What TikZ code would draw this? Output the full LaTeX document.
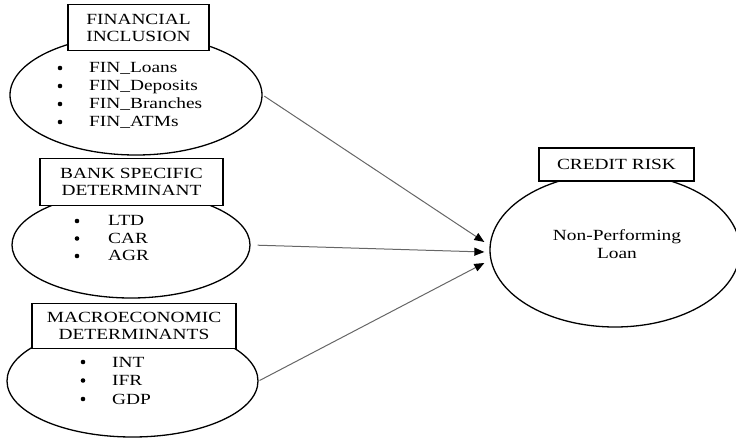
\documentclass[tikz,border=0pt]{standalone}
\usepackage{fontspec}
\setmainfont{Liberation Serif}[FakeStretch=1.25]
\usepackage{tikz}
\usetikzlibrary{arrows.meta, shapes.geometric, positioning}
\tikzset{>={Triangle[length=10pt,width=8pt,color=black]}}
\tikzset{
  oval/.style={draw, ellipse, line width=1.3pt, inner sep=0pt},
  headbox/.style={draw, rectangle, fill=white, line width=1.3pt, align=center, inner sep=0pt, font=\fontsize{15.5}{17}\selectfont},
  item/.style={anchor=base west, inner sep=0pt, font=\fontsize{15.5}{17}\selectfont},
  link/.style={->, draw=black!60, line width=1pt}
}

\begin{document}
\begin{tikzpicture}[x=1pt, y=-1pt]
        \useasboundingbox (0,0) rectangle (736,438);

        \node [oval, minimum width=252pt, minimum height=120pt] (fin) at (136,95) {};
        \node [oval, minimum width=238pt, minimum height=106pt] (bank) at (131,245) {};
        \node [oval, minimum width=251pt, minimum height=112pt] (macro) at (132.5,381) {};
        \node [oval, minimum width=250pt, minimum height=154pt] (npl) at (615,250) {};

        \node [headbox, minimum width=141pt, minimum height=46pt] (finhead) at (138.5,27.5) {FINANCIAL\\INCLUSION};
        \node [headbox, minimum width=183pt, minimum height=47pt] (bankhead) at (131.5,182) {BANK SPECIFIC\\DETERMINANT};
        \node [headbox, minimum width=204pt, minimum height=45pt] (macrohead) at (134,326) {MACROECONOMIC\\DETERMINANTS};
        \node [headbox, minimum width=155pt, minimum height=33pt] (riskhead) at (616.5,164.5) {CREDIT RISK};

        \node [item] (finloans) at (89,73) {FIN\_Loans};
        \node [item] (findep) at (89,91) {FIN\_Deposits};
        \node [item] (finbr) at (89,109) {FIN\_Branches};
        \node [item] (finatm) at (89,127) {FIN\_ATMs};

        \node [item] (ltd) at (108,226) {LTD};
        \node [item] (car) at (108,243.5) {CAR};
        \node [item] (agr) at (108,261) {AGR};

        \node [item] (int) at (112,367) {INT};
        \node [item] (ifr) at (112,385.5) {IFR};
        \node [item] (gdp) at (112,404) {GDP};

        \foreach \n in {finloans, findep, finbr, finatm}
            \fill ([xshift=-29pt,yshift=5pt]\n.base west) circle (2.3pt);
        \foreach \n in {ltd, car, agr}
            \fill ([xshift=-31pt,yshift=5pt]\n.base west) circle (2.3pt);
        \foreach \n in {int, ifr, gdp}
            \fill ([xshift=-29pt,yshift=5pt]\n.base west) circle (2.3pt);

        \node [align=center, inner sep=0pt, font=\fontsize{15.5}{18}\selectfont] (npltext) at (617,244) {Non-Performing\\Loan};

        \coordinate (in1) at ([xshift=-5pt,yshift=8pt]npl.west);
        \coordinate (in2) at ([xshift=-5pt,yshift=-2pt]npl.west);
        \coordinate (in3) at ([xshift=-5pt,yshift=-13pt]npl.west);

        \draw [link, shorten <=2pt] (fin.east) -- (in1);
        \draw [link, shorten <=7pt] (bank.east) -- (in2);
        \draw [link, shorten <=1pt] (macro.east) -- (in3);
\end{tikzpicture}
\end{document}
